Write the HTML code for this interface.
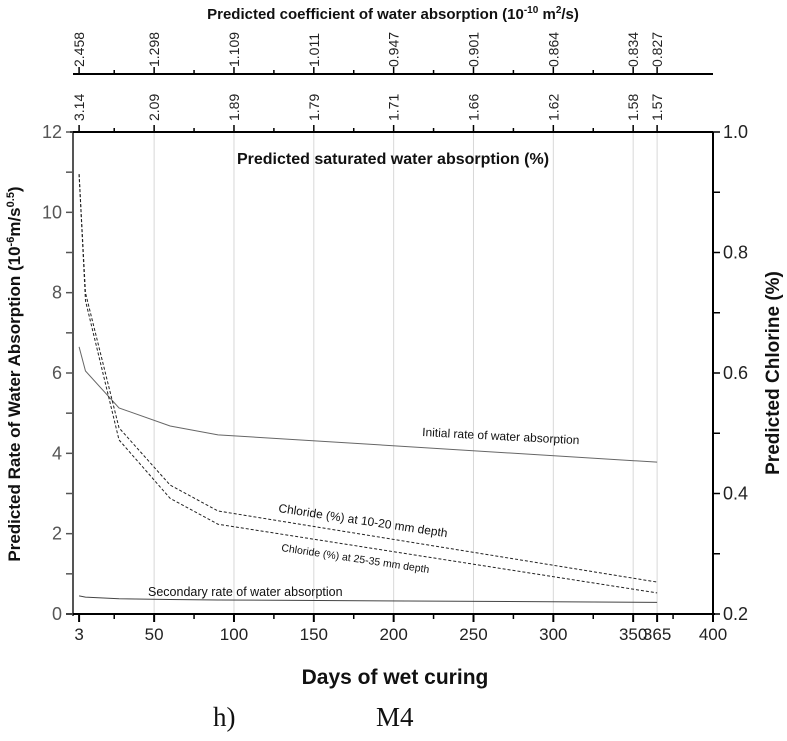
<!DOCTYPE html>
<html><head><meta charset="utf-8"><style>
body{margin:0;background:#fff}
svg{display:block;font-family:"Liberation Sans",sans-serif}
</style></head><body>
<svg width="787" height="741" viewBox="0 0 787 741">
<g id="g"></g>
</svg>
<script>
const days=[3,7,28,60,90,365];
const initialRate=[6.65,6.05,5.13,4.68,4.46,3.78];
const secondaryRate=[0.45,0.42,0.38,0.36,0.35,0.29];
const chloride1020=[0.93,0.733,0.509,0.414,0.371,0.253];
const chloride2535=[0.93,0.72,0.489,0.392,0.349,0.235];
const xTicks=[3,50,100,150,200,250,300,350,365,400];
const xMinor=[25,75,125,175,225,275,325,375];
const topDays=[3,50,100,150,200,250,300,350,365];
const coefLabels=["2.458","1.298","1.109","1.011","0.947","0.901","0.864","0.834","0.827"];
const satLabels=["3.14","2.09","1.89","1.79","1.71","1.66","1.62","1.58","1.57"];
const yLeftTicks=[0,2,4,6,8,10,12];
const yRightTicks=[0.2,0.4,0.6,0.8,1.0];

const X0=74.3,X1=713,Yb=614,Yt=132;
const x=d=>X0+(d/400)*(X1-X0);
const yl=v=>Yb-(v/12)*(Yb-Yt);
const yr=v=>Yb-((v-0.2)/0.8)*(Yb-Yt);
const g=document.getElementById('g');
const NS='http://www.w3.org/2000/svg';
function el(t,a,txt){const e=document.createElementNS(NS,t);for(const k in a)e.setAttribute(k,a[k]);if(txt!==undefined)e.textContent=txt;g.appendChild(e);return e;}

// grid
xTicks.slice(1,9).forEach(d=>{const e=el('line',{x1:x(d),x2:x(d),y1:Yt,y2:Yb,stroke:'#d8d8d8','stroke-width':1});

});

// axes
let e;
e=el('line',{x1:73,x2:73,y1:Yt,y2:Yb+2,stroke:'#555','stroke-width':2});

e=el('line',{x1:X1,x2:X1,y1:Yt,y2:Yb,stroke:'#000','stroke-width':2});

e=el('line',{x1:66,x2:X1+2,y1:Yb,y2:Yb,stroke:'#000','stroke-width':2});

e=el('line',{x1:70,x2:X1,y1:Yt,y2:Yt,stroke:'#000','stroke-width':2});

e=el('line',{x1:73,x2:X1,y1:74,y2:74,stroke:'#000','stroke-width':2});


// x ticks
xTicks.forEach(d=>{el('line',{x1:x(d),x2:x(d),y1:Yb,y2:Yb+8,stroke:'#000','stroke-width':2});
e=el('text',{x:x(d),y:Yb+26,'text-anchor':'middle','font-size':17,fill:'#222'},d);
});
xMinor.forEach(d=>el('line',{x1:x(d),x2:x(d),y1:Yb,y2:Yb+5,stroke:'#000','stroke-width':1.5}));
// top ticks
topDays.forEach((d,i)=>{
 el('line',{x1:x(d),x2:x(d),y1:Yt,y2:Yt-7,stroke:'#000','stroke-width':1.5});
 el('line',{x1:x(d),x2:x(d),y1:74,y2:67,stroke:'#000','stroke-width':1.5});
 e=el('text',{transform:`translate(${x(d)+5},${Yt-11}) rotate(-90)`,'font-size':14,fill:'#222'},satLabels[i]);
 
 e=el('text',{transform:`translate(${x(d)+5},${67}) rotate(-90)`,'font-size':14,fill:'#222'},coefLabels[i]);
 
});
xMinor.slice(0,7).forEach(d=>{el('line',{x1:x(d),x2:x(d),y1:Yt,y2:Yt-4,stroke:'#000','stroke-width':1.5});el('line',{x1:x(d),x2:x(d),y1:74,y2:70,stroke:'#000','stroke-width':1.5});});
// left ticks
for(let v=0;v<=12;v++){el('line',{x1:66,x2:73,y1:yl(v),y2:yl(v),stroke:'#555','stroke-width':1.5});}
yLeftTicks.forEach(v=>{e=el('text',{x:62,y:yl(v)+6,'text-anchor':'end','font-size':18,fill:'#555'},v);
});
// right ticks
[0.2,0.3,0.4,0.5,0.6,0.7,0.8,0.9,1.0].forEach(v=>el('line',{x1:X1,x2:X1+7,y1:yr(v),y2:yr(v),stroke:'#000','stroke-width':1.5}));
yRightTicks.forEach(v=>{e=el('text',{x:X1+10,y:yr(v)+6,'font-size':18,fill:'#222'},v.toFixed(1));
});

// series
function line(vals,fy,dash,name,col){const p=days.map((d,i)=>x(d)+','+fy(vals[i])).join(' ');
 const a={points:p,fill:'none',stroke:col,'stroke-width':1};if(dash)a['stroke-dasharray']='3,2';
 const l=el('polyline',a);}
line(initialRate,yl,false,'initial-rate-line','#666');
line(secondaryRate,yl,false,'secondary-rate-line','#444');
line(chloride1020,yr,true,'chloride-10-20-line','#222');
line(chloride2535,yr,true,'chloride-25-35-line','#222');

// labels
function txt(s,a,name){const t=el('text',a,s);}
txt('Initial rate of water absorption',{transform:'translate(422,436) rotate(3)','font-size':12,fill:'#111'},'initial-rate-label');
txt('Chloride (%) at 10-20 mm depth',{transform:'translate(278,512) rotate(8.5)','font-size':12,fill:'#111'},'chloride-10-20-label');
txt('Chloride (%) at 25-35 mm depth',{transform:'translate(281,551) rotate(8.5)','font-size':10.5,fill:'#111'},'chloride-25-35-label');
txt('Secondary rate of water absorption',{x:148,y:596,'font-size':12.5,fill:'#111'},'secondary-rate-label');
txt('Predicted saturated water absorption (%)',{x:393,y:164,'text-anchor':'middle','font-size':16,'font-weight':'bold',fill:'#111'},'saturated-axis-title');
const tt=el('text',{x:393,y:19,'text-anchor':'middle','font-size':15,'font-weight':'bold',fill:'#111'});

tt.innerHTML='Predicted coefficient of water absorption (10<tspan dy="-6" font-size="10">-10</tspan><tspan dy="6"> m</tspan><tspan dy="-6" font-size="10">2</tspan><tspan dy="6">/s)</tspan>';
const yt=el('text',{transform:'translate(20,374) rotate(-90)','text-anchor':'middle','font-size':17,'font-weight':'bold',fill:'#111'});

yt.innerHTML='Predicted Rate of Water Absorption (10<tspan dy="-6" font-size="11">-6</tspan><tspan dy="6">m/s</tspan><tspan dy="-6" font-size="11">0.5</tspan><tspan dy="6">)</tspan>';
txt('Predicted Chlorine (%)',{transform:'translate(779,373) rotate(-90)','text-anchor':'middle','font-size':19,'font-weight':'bold',fill:'#111'},'y-right-axis-title');
txt('Days of wet curing',{x:395,y:684,'text-anchor':'middle','font-size':21,'font-weight':'bold',fill:'#111'},'x-axis-title');
txt('h)',{x:213,y:726,'font-size':27,fill:'#111','font-family':'Liberation Serif,serif'},'panel-label');
txt('M4',{x:376,y:726,'font-size':27,fill:'#111','font-family':'Liberation Serif,serif'},'panel-title');
</script>
</body></html>
